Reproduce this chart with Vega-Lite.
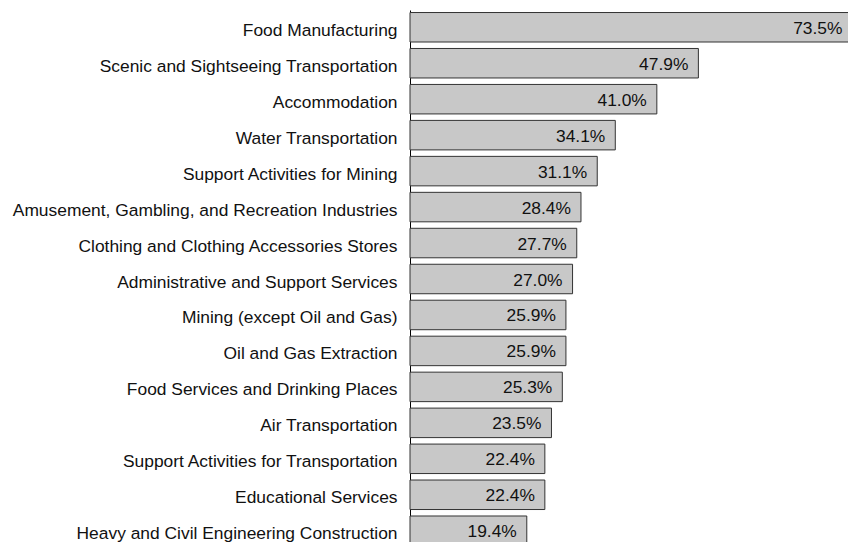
{
  "$schema": "https://vega.github.io/schema/vega-lite/v6.json",
  "autosize": {"type": "none"},
  "padding": {"left": 410, "top": 10, "right": 0, "bottom": 0},
  "width": 442.5,
  "height": 538,
  "background": "white",
  "config": {"view": {"stroke": null}, "font": "Liberation Sans"},
  "data": {"values": [
    {"industry": "Food Manufacturing", "value": 73.5, "label": "73.5%"},
    {"industry": "Scenic and Sightseeing Transportation", "value": 47.9, "label": "47.9%"},
    {"industry": "Accommodation", "value": 41.0, "label": "41.0%"},
    {"industry": "Water Transportation", "value": 34.1, "label": "34.1%"},
    {"industry": "Support Activities for Mining", "value": 31.1, "label": "31.1%"},
    {"industry": "Amusement, Gambling, and Recreation Industries", "value": 28.4, "label": "28.4%"},
    {"industry": "Clothing and Clothing Accessories Stores", "value": 27.7, "label": "27.7%"},
    {"industry": "Administrative and Support Services", "value": 27.0, "label": "27.0%"},
    {"industry": "Mining (except Oil and Gas)", "value": 25.9, "label": "25.9%"},
    {"industry": "Oil and Gas Extraction", "value": 25.9, "label": "25.9%"},
    {"industry": "Food Services and Drinking Places", "value": 25.3, "label": "25.3%"},
    {"industry": "Air Transportation", "value": 23.5, "label": "23.5%"},
    {"industry": "Support Activities for Transportation", "value": 22.4, "label": "22.4%"},
    {"industry": "Educational Services", "value": 22.4, "label": "22.4%"},
    {"industry": "Heavy and Civil Engineering Construction", "value": 19.4, "label": "19.4%"}
  ]},
  "encoding": {
    "y": {
      "field": "industry", "type": "nominal", "sort": null,
      "scale": {"paddingInner": 0.18, "paddingOuter": 0.07},
      "axis": {"title": null, "ticks": false, "labelFontSize": 17.4, "labelColor": "#111", "labelPadding": 13, "labelLimit": 0, "domainColor": "#000", "domainWidth": 1, "labelOffset": 3.5}
    },
    "x": {
      "field": "value", "type": "quantitative",
      "scale": {"domain": [0, 73.5], "nice": false},
      "axis": null
    }
  },
  "layer": [
    {"mark": {"type": "bar", "fill": "#c8c8c8", "stroke": "#333", "strokeWidth": 1}},
    {"mark": {"type": "text", "align": "right", "baseline": "middle", "dx": -10, "dy": 1.5, "fontSize": 17.4, "color": "#111"},
     "encoding": {"text": {"field": "label"}}}
  ]
}
